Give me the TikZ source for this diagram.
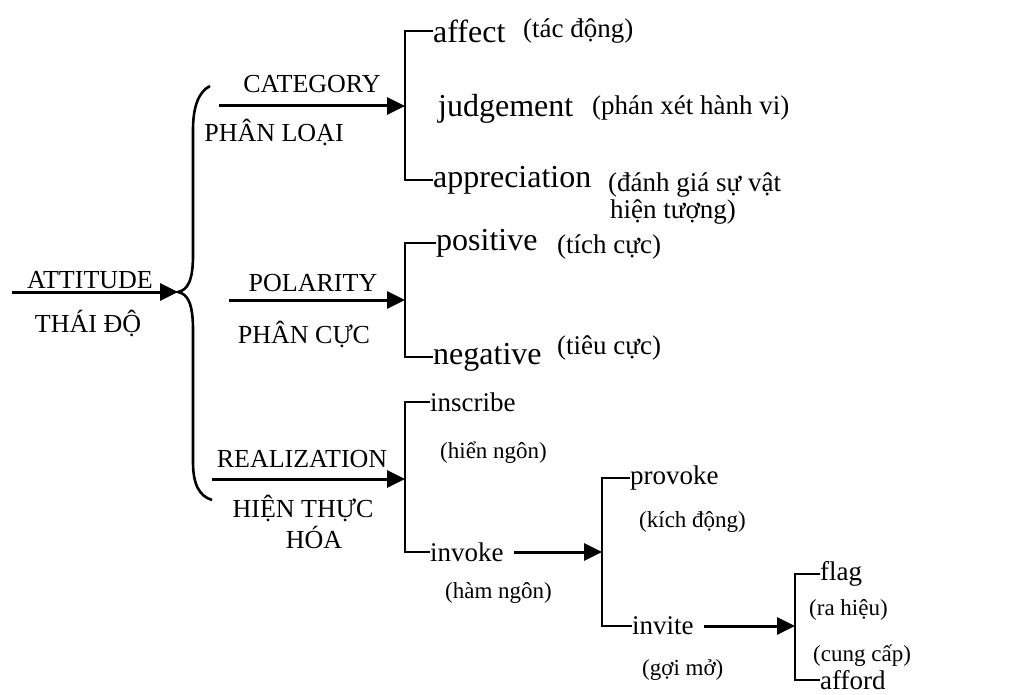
\documentclass[tikz,border=0pt]{standalone}
\usepackage{fontspec}
\setmainfont{Liberation Serif}
\usetikzlibrary{arrows.meta, positioning}
\tikzset{
x=1pt, y=-1pt, % one unit for one pixel of the page, y going down
arr/.style={line width=3pt, -{Triangle[length=18pt,width=17pt]}}, % the thick arrows
brk/.style={line width=2.6pt}, % brackets and the brace
}

\begin{document}
\begin{tikzpicture}[inner sep=0pt,
    upper/.style = {font=\fontsize{26}{30}\selectfont, anchor=base},
    big/.style = {font=\fontsize{32}{36}\selectfont, anchor=west},
    small/.style = {font=\fontsize{27}{30}\selectfont, anchor=west},
    gl/.style = {font=\fontsize{27}{30}\selectfont, anchor=base west},
    gls/.style = {font=\fontsize{23}{26}\selectfont, anchor=base west}]
    \useasboundingbox (0,0) rectangle (1011,695);

    \coordinate (att) at (12,292);
    \coordinate (brace) at (178,292);
    \coordinate (braceTop) at (210,86);
    \coordinate (braceBot) at (212,500);
    \node[upper] (attitude) at (90,288) {ATTITUDE};
    \node[upper] (thaido) at (88,332) {THÁI ĐỘ};

    \coordinate (catS) at (219,106);
    \coordinate (cat) at (405,106);
    \node[upper] (category) at (312,93) {CATEGORY};
    \node[upper] (phanloai) at (274,142) {PHÂN LOẠI};
    \node[big] (affect) at (433,31) {affect};
    \node[big, anchor=base west] (judgement) at (438,117) {judgement};
    \node[big] (appreciation) at (433,180) {appreciation};
    \node[gl] (tacdong) at (523,38) {(tác động)};
    \node[gl] (phanxet) at (592,115) {(phán xét hành vi)};
    \node[gl] (danhgia) at (608,191) {(đánh giá sự vật};
    \node[gl] (hientuong) at (610,218) {hiện tượng)};

    \coordinate (polS) at (229,300);
    \coordinate (pol) at (405,300);
    \node[upper] (polarity) at (313,291) {POLARITY};
    \node[upper] (phancuc) at (304,343) {PHÂN CỰC};
    \node[big] (positive) at (436,243) {positive};
    \node[big] (negative) at (433,357) {negative};
    \node[gl] (tichcuc) at (557,253) {(tích cực)};
    \node[gl] (tieucuc) at (557,354) {(tiêu cực)};

    \coordinate (realS) at (212,479);
    \coordinate (real) at (405,479);
    \node[upper] (realization) at (302,467) {REALIZATION};
    \node[upper] (hienthuc) at (303,517) {HIỆN THỰC};
    \node[upper] (hoa) at (314,548) {HÓA};
    \node[small] (inscribe) at (430,402) {inscribe};
    \node[small] (invoke) at (430,552) {invoke};
    \node[gls] (hienngon) at (440,458) {(hiển ngôn)};
    \node[gls] (hamngon) at (445,598) {(hàm ngôn)};

    \coordinate (inv) at (602,552);
    \node[small] (provoke) at (630,478) {provoke};
    \node[small] (invite) at (632,626) {invite};
    \node[gls] (kichdong) at (639,527) {(kích động)};
    \node[gls] (goimo) at (642,675) {(gợi mở)};

    \coordinate (inf) at (795,626);
    \node[small] (flag) at (820,574) {flag};
    \node[small] (afford) at (820,680) {afford};
    \node[gls] (rahieu) at (809,615) {(ra hiệu)};
    \node[gls] (cungcap) at (813,661) {(cung cấp)};

    \draw[arr] (att) -- (brace);
    \draw[brk] (braceTop) .. controls (198,92) and (193,108) .. (193,130) -- (193,255)
        .. controls (193,280) and (188,290) .. (brace)
        .. controls (188,294) and (193,304) .. (193,330) -- (193,462)
        .. controls (193,484) and (199,496) .. (braceBot);

    \draw[arr] (catS) -- (cat);
    \draw[arr] (polS) -- (pol);
    \draw[arr] (realS) -- (real);
    \draw[arr] ([xshift=10pt]invoke.east) -- (inv);
    \draw[arr] ([xshift=10pt]invite.east) -- (inf);

    \draw[brk] (affect.west) -| (cat) |- (appreciation.west);
    \draw[brk] (positive.west) -| (pol) |- (negative.west);
    \draw[brk] (inscribe.west) -| (real) |- (invoke.west);
    \draw[brk] (provoke.west) -| (inv) |- (invite.west);
    \draw[brk] (flag.west) -| (inf) |- (afford.west);
\end{tikzpicture}
\end{document}
